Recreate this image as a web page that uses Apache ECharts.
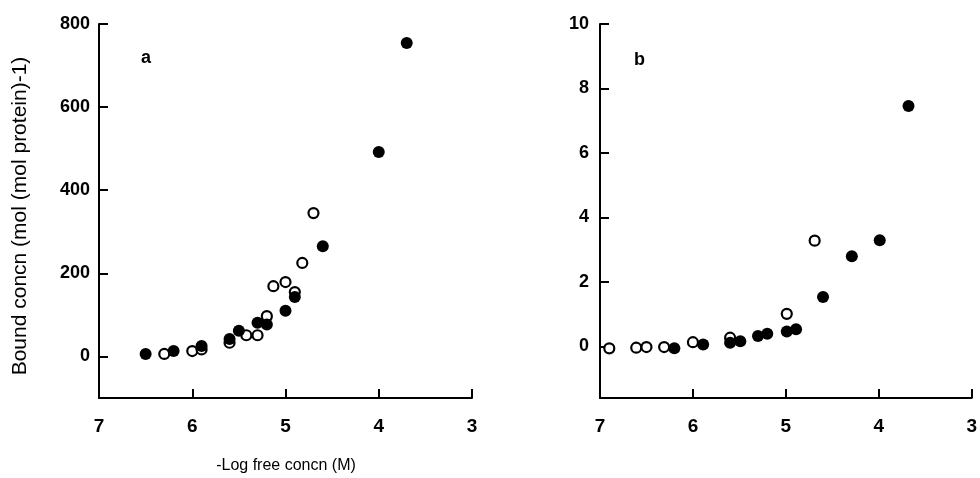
<!DOCTYPE html>
<html>
<head>
<meta charset="utf-8">
<script src="https://cdn.jsdelivr.net/npm/echarts@6/dist/echarts.min.js"></script>
<style>
  html, body { margin: 0; padding: 0; background: #fff; }
  #chart { width: 980px; height: 478px; }
</style>
</head>
<body>
<div id="chart"></div>
<script>
// panel a: [-log free concn, bound concn]
const aFilled = [
  [6.5, 6], [6.2, 13], [5.9, 25], [5.6, 42], [5.5, 62], [5.3, 81],
  [5.2, 77], [5.0, 110], [4.9, 143], [4.6, 265], [4.0, 492], [3.7, 754]
]
const aOpen = [
  [6.3, 6], [6.0, 13], [5.9, 17], [5.6, 33], [5.42, 51], [5.3, 51],
  [5.2, 97], [5.13, 169], [5.0, 179], [4.9, 155], [4.82, 225], [4.7, 345]
]
// panel b
const bFilled = [
  [6.2, -0.06], [5.89, 0.06], [5.6, 0.11], [5.49, 0.16], [5.3, 0.32],
  [5.2, 0.39], [4.99, 0.46], [4.89, 0.53], [4.6, 1.53], [4.29, 2.8],
  [3.99, 3.29], [3.68, 7.46]
]
const bOpen = [
  [6.9, -0.06], [6.61, -0.04], [6.5, -0.02], [6.31, -0.02], [6.0, 0.13],
  [5.6, 0.27], [4.99, 1.01], [4.69, 3.28]
]
const aYTicks = [0, 200, 400, 600, 800]
const bYTicks = [0, 2, 4, 6, 8, 10]

const font = 'Liberation Sans, Arial, sans-serif'
const axisLine = { show: true, onZero: false, lineStyle: { color: '#000', width: 2 } }

function xAxis (grid) {
  return {
    type: 'value', gridIndex: grid, inverse: true, min: 3, max: 7, interval: 1,
    axisLine: axisLine,
    axisTick: { show: true, inside: true, length: 9, lineStyle: { color: '#000', width: 2 } },
    axisLabel: { color: '#000', fontSize: 19, fontWeight: 'bold', fontFamily: font, margin: 19 },
    splitLine: { show: false }
  }
}
function yAxis (grid, min, max, ticks, margin) {
  return {
    type: 'value', gridIndex: grid, min: min, max: max,
    axisLine: axisLine,
    axisTick: { show: true, inside: true, length: 9, customValues: ticks, lineStyle: { color: '#000', width: 2 } },
    axisLabel: { color: '#000', fontSize: 18, fontWeight: 'bold', fontFamily: font, margin: margin, customValues: ticks },
    splitLine: { show: false }
  }
}
function filled (data, x, y) {
  return {
    type: 'scatter', xAxisIndex: x, yAxisIndex: y, data: data, symbolSize: 12,
    itemStyle: { color: '#000', opacity: 1 }
  }
}
function open (data, x, y) {
  return {
    type: 'scatter', xAxisIndex: x, yAxisIndex: y, data: data, symbolSize: 10,
    itemStyle: { color: '#fff', borderColor: '#000', borderWidth: 2.2, opacity: 1 }
  }
}

const chart = echarts.init(document.getElementById('chart'))
chart.setOption({
  animation: false,
  backgroundColor: '#fff',
  grid: [
    { left: 99, right: 508, top: 24, bottom: 80 },
    { left: 600, right: 8, top: 24, bottom: 80 }
  ],
  xAxis: [xAxis(0), xAxis(1)],
  yAxis: [yAxis(0, -100, 800, aYTicks, 9), yAxis(1, -1.6, 10, bYTicks, 11)],
  series: [
    open(aOpen, 0, 0), filled(aFilled, 0, 0),
    open(bOpen, 1, 1), filled(bFilled, 1, 1)
  ],
  graphic: [
    { type: 'text', left: 141, top: 49, style: { text: 'a', font: 'bold 18px ' + font, fill: '#000' } },
    { type: 'text', left: 634, top: 51, style: { text: 'b', font: 'bold 18px ' + font, fill: '#000' } },
    { type: 'text', x: 286, y: 466, style: { text: '-Log free concn (M)', font: '16px ' + font, fill: '#000', align: 'center', verticalAlign: 'middle' } },
    { type: 'text', x: 20, y: 216, rotation: Math.PI / 2, style: { text: 'Bound concn (mol (mol protein)-1)', font: '21px ' + font, fill: '#000', align: 'center', verticalAlign: 'middle' } }
  ]
})
</script>
</body>
</html>
